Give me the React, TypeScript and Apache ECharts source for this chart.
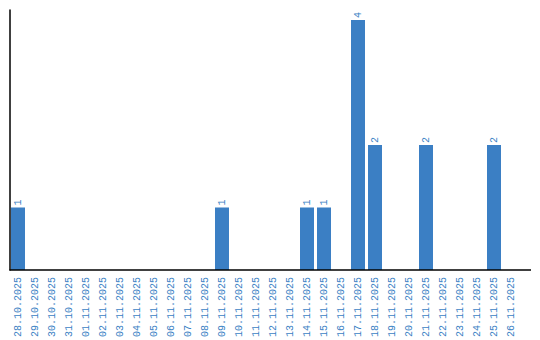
import React, { useEffect, useRef } from "react";
import * as echarts from "echarts";

const categories = [
  "28.10.2025", "29.10.2025", "30.10.2025", "31.10.2025", "01.11.2025",
  "02.11.2025", "03.11.2025", "04.11.2025", "05.11.2025", "06.11.2025",
  "07.11.2025", "08.11.2025", "09.11.2025", "10.11.2025", "11.11.2025",
  "12.11.2025", "13.11.2025", "14.11.2025", "15.11.2025", "16.11.2025",
  "17.11.2025", "18.11.2025", "19.11.2025", "20.11.2025", "21.11.2025",
  "22.11.2025", "23.11.2025", "24.11.2025", "25.11.2025", "26.11.2025",
];
const values = [
  1, 0, 0, 0, 0, 0, 0, 0, 0, 0,
  0, 0, 1, 0, 0, 0, 0, 1, 1, 0,
  4, 2, 0, 0, 2, 0, 0, 0, 2, 0,
];

const BLUE = "#3b7fc4";
const FONT = "Liberation Mono";

export default function App() {
  const ref = useRef<HTMLDivElement>(null);
  useEffect(() => {
    if (!ref.current) return;
    const chart = echarts.init(ref.current, null, { renderer: "svg" });
    chart.setOption({
      animation: false,
      grid: { left: 9.5, right: 20.5, top: 10, bottom: 70 },
      graphic: [
        {
          type: "line",
          z: 100,
          shape: { x1: 9.5, y1: 270, x2: 531, y2: 270 },
          style: { stroke: "#000", lineWidth: 1.5 },
        },
      ],
      xAxis: {
        type: "category",
        data: categories,
        axisLine: { show: false },
        axisTick: { show: false },
        axisLabel: {
          interval: 0,
          rotate: 90,
          color: BLUE,
          fontFamily: FONT,
          fontSize: 10,
          margin: 7,
        },
      },
      yAxis: {
        type: "value",
        min: 0,
        max: 4.16,
        axisLine: { show: true, lineStyle: { color: "#000", width: 1.5 } },
        axisTick: { show: false },
        axisLabel: { show: false },
        splitLine: { show: false },
      },
      series: [
        {
          type: "bar",
          data: values.map((v) => (v === 0 ? null : v)),
          barWidth: 14,
          itemStyle: { color: BLUE },
          label: {
            show: true,
            position: "top",
            rotate: 90,
            align: "left",
            verticalAlign: "middle",
            distance: 2,
            color: BLUE,
            fontFamily: FONT,
            fontSize: 10,
          },
        },
      ],
    });
    return () => chart.dispose();
  }, []);
  return (
    <div
      ref={ref}
      style={{ position: "absolute", left: 0, top: 0, width: 540, height: 340 }}
    />
  );
}
